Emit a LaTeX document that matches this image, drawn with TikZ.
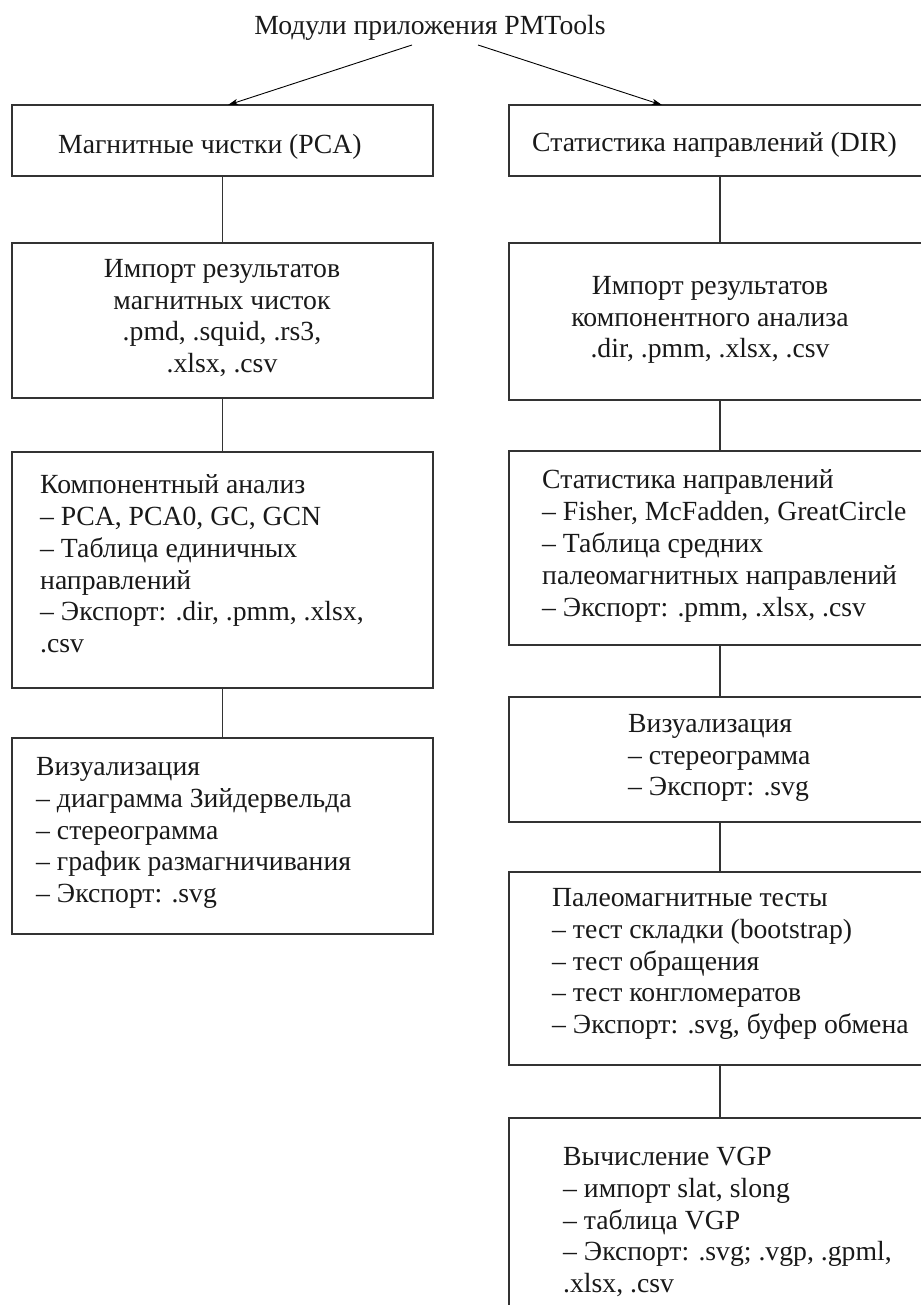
\documentclass[tikz,border=0pt]{standalone}
\usepackage{fontspec}
\setmainfont{Liberation Serif}
\usetikzlibrary{arrows.meta}
\begin{document}
\begin{tikzpicture}[x=1pt,y=-1pt,
  box/.style={draw=black!80, line width=1.1pt, inner sep=0pt, outer sep=0pt},
  lbox/.style={box, minimum width=421pt},
  rbox/.style={box, minimum width=422pt},
  lbl/.style={font=\fontsize{27.7}{31.8}\selectfont, inner sep=0pt, text=black!90},
  lleft/.style={lbl, align=left, anchor=west},
  lcent/.style={lbl, align=center, anchor=center},
  conn/.style={draw=black!80, line width=1.1pt},
  arr/.style={draw=black, line width=0.9pt, -{Stealth[length=10pt,width=6pt,inset=2.5pt]}}
]
\useasboundingbox (0,0) rectangle (920,1305);

% title
\node[lcent] (title) at (430,28) {Модули приложения PMTools};

% left column boxes
\node[lbox, minimum height=71pt]  (L1) at (222.5,140.5) {};
\node[lbox, minimum height=155pt] (L2) at (222.5,320.5) {};
\node[lbox, minimum height=236pt] (L3) at (222.5,570) {};
\node[lbox, minimum height=196pt] (L4) at (222.5,836) {};

% right column boxes
\node[rbox, minimum height=71pt]  (R1) at (720,140.5) {};
\node[rbox, minimum height=157pt] (R2) at (720,321.5) {};
\node[rbox, minimum height=194pt] (R3) at (720,548) {};
\node[rbox, minimum height=125pt] (R4) at (720,759.5) {};
\node[rbox, minimum height=193pt] (R5) at (720,968.5) {};
\node[rbox, minimum height=212pt] (R6) at (720,1224) {};

% labels
\node[lleft] (L1t) at (58,147) {Магнитные чистки (PCA)};
\node[lcent] (L2t) at (222,318) {Импорт результатов\\магнитных чисток\\.pmd, .squid, .rs3,\\.xlsx, .csv};
\node[lleft] (L3t) at (40,564) {Компонентный анализ\\– PCA, PCA0, GC, GCN\\– Таблица единичных\\направлений\\– Экспорт: .dir, .pmm, .xlsx,\\.csv};
\node[lleft] (L4t) at (36,833) {Визуализация\\– диаграмма Зийдервельда\\– стереограмма\\– график размагничивания\\– Экспорт: .svg};

\node[lleft] (R1t) at (532,145) {Статистика направлений (DIR)};
\node[lcent] (R2t) at (710,320) {Импорт результатов\\компонентного анализа\\.dir, .pmm, .xlsx, .csv};
\node[lleft] (R3t) at (542,546) {Статистика направлений\\– Fisher, McFadden, GreatCircle\\– Таблица средних\\палеомагнитных направлений\\– Экспорт: .pmm, .xlsx, .csv};
\node[lleft] (R4t) at (628,758) {Визуализация\\– стереограмма\\– Экспорт: .svg};
\node[lleft] (R5t) at (552,964) {Палеомагнитные тесты\\– тест складки (bootstrap)\\– тест обращения\\– тест конгломератов\\– Экспорт: .svg, буфер обмена};
\node[lleft] (R6t) at (563,1222) {Вычисление VGP\\– импорт slat, slong\\– таблица VGP\\– Экспорт: .svg; .vgp, .gpml,\\.xlsx, .csv};

% arrows from title
\coordinate (tA) at (412,45);
\coordinate (tB) at (478,45);
\coordinate (L1in) at (228,105);
\coordinate (R1in) at (662,105);
\draw[arr] (tA) -- (L1in);
\draw[arr] (tB) -- (R1in);

% connectors
\draw[conn] (L1.south) -- (L2.north);
\draw[conn] (L2.south) -- (L3.north);
\draw[conn] (L3.south) -- (L4.north);
\draw[conn] (R1.south) -- (R2.north);
\draw[conn] (R2.south) -- (R3.north);
\draw[conn] (R3.south) -- (R4.north);
\draw[conn] (R4.south) -- (R5.north);
\draw[conn] (R5.south) -- (R6.north);
\end{tikzpicture}
\end{document}
